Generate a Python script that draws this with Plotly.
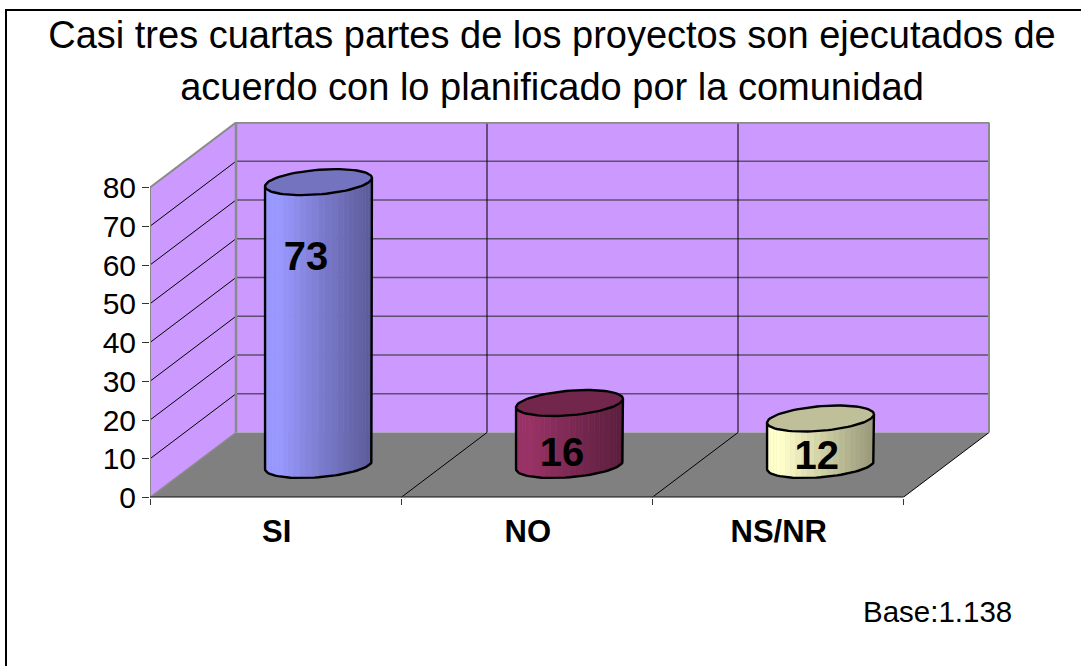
import math
import plotly.graph_objects as go

# ---- data ----
categories = ["SI", "NO", "NS/NR"]
values = [73, 16, 12]
y_ticks = [0, 10, 20, 30, 40, 50, 60, 70, 80]
title_lines = ["Casi tres cuartas partes de los proyectos son ejecutados de",
               "acuerdo con lo planificado por la comunidad"]
base_note = "Base:1.138"

# ---- styles ----
bar_colors = [(153, 153, 255), (153, 51, 102), (255, 255, 204)]
WALL = "#CC99FF"; FLOOR = "#808080"; EDGE = "#8A8A8A"; GRID = "#5C5070"
FONT = "Liberation Sans, Arial, sans-serif"
W, H = 1081, 666
HP = 650                            # height the page actually gives the plot
PX_CAT, PX_UNIT = 251.0, 3.875      # px per category, px per value unit
DX, DY = 86 / PX_CAT, 65 / PX_UNIT  # oblique depth offset in axis units
LEFT, RIGHT, BOTTOM, TOP = 150, 990, 497.5, 122
YMAX = max(y_ticks)
RX, RD, STRIPS, SEG = 0.2016, 0.2, 26, 40
T0 = math.atan2(17.2, 50.6)


def proj(cat, val, depth):
    return cat + depth * DX, val + depth * DY


def poly(points, fill, line=None, width=0):
    xs, ys = zip(*points)
    return go.Scatter(x=list(xs) + [xs[0]], y=list(ys) + [ys[0]], mode="lines", fill="toself",
                      fillcolor=fill, line=dict(color=line or fill, width=width),
                      hoverinfo="skip", showlegend=False)


def seg(p, q, color, width):
    return go.Scatter(x=[p[0], q[0]], y=[p[1], q[1]], mode="lines",
                      line=dict(color=color, width=width), hoverinfo="skip", showlegend=False)


def rgb(c, f=1.0):
    return "rgb(%d,%d,%d)" % tuple(round(v * f) for v in c)


n = len(categories)
traces = [
    poly([proj(0, 0, 0), proj(0, 0, 1), proj(0, YMAX, 1), proj(0, YMAX, 0)], WALL),
    poly([proj(0, 0, 1), proj(n, 0, 1), proj(n, YMAX, 1), proj(0, YMAX, 1)], WALL),
    poly([proj(0, 0, 0), proj(n, 0, 0), proj(n, 0, 1), proj(0, 0, 1)], FLOOR),
]
for v in y_ticks[1:-1]:
    traces.append(seg(proj(0, v, 0), proj(0, v, 1), "#000000", 1))
    traces.append(seg(proj(0, v, 1), proj(n, v, 1), GRID, 1.6))
for i in range(1, n):
    traces.append(seg(proj(i, 0, 1), proj(i, YMAX, 1), "#000000", 1))
    traces.append(seg(proj(i, 0, 0), proj(i, 0, 1), "#000000", 1))
traces += [
    seg(proj(n, 0, 0), proj(n, 0, 1), "#000000", 1),
    seg(proj(0, 0, 0), proj(0, 0, 1), EDGE, 1.5),
    seg(proj(0, YMAX, 0), proj(0, YMAX, 1), EDGE, 2),
    seg(proj(0, 0, 1), proj(0, YMAX, 1), EDGE, 2.5),
    seg(proj(0, YMAX, 1), proj(n, YMAX, 1), EDGE, 2.5),
    seg(proj(n, 0, 1), proj(n, YMAX, 1), EDGE, 2),
    seg(proj(0, 0, 0), proj(0, YMAX, 0), EDGE, 2),
    seg(proj(0, 0, 0), proj(n, 0, 0), "#333333", 2.5),
]


def rim(i, val, t):
    return proj(i + 0.5 + RX * math.cos(t), val, 0.5 + RD * math.sin(t))


for i, (val, col) in enumerate(zip(values, bar_colors)):
    for s in range(STRIPS):
        t1 = T0 - math.pi * s / STRIPS
        t2 = T0 - math.pi * (s + 1) / STRIPS
        xfrac = 1 - (math.cos(t1 - T0) + 1) / 2
        shade = 0.6 + 0.4 * min(1.0, xfrac / 0.85)
        traces.append(poly([rim(i, val, t1), rim(i, val, t2), rim(i, 0, t2), rim(i, 0, t1)],
                           rgb(col, shade), width=0.6))
    arc_top = [rim(i, val, T0 - math.pi * k / SEG) for k in range(SEG + 1)]
    arc_bot = [rim(i, 0, T0 - math.pi * k / SEG) for k in range(SEG + 1)]
    xs, ys = zip(*(arc_bot + [arc_top[-1]]))
    traces.append(go.Scatter(x=[arc_top[0][0]] + list(xs), y=[arc_top[0][1]] + list(ys),
                             mode="lines", line=dict(color="#000", width=2.4),
                             hoverinfo="skip", showlegend=False))
    cap = [rim(i, val, 2 * math.pi * k / (2 * SEG)) for k in range(2 * SEG)]
    traces.append(poly(cap, rgb(col, 0.75), "#000000", 2.4))

# data labels sit at a small per-bar offset from the bar top / middle
label_off = [(-0.05, -11.7), (-0.03, -5.3), (-0.015, -2.1)]
for i, (val, off) in enumerate(zip(values, label_off)):
    lx, ly = proj(i + 0.5 + off[0], val + off[1] - (16.77 * 0.5), 0.5)
    traces.append(go.Scatter(x=[lx], y=[ly], mode="text", text=[str(val)], textposition="middle center",
                             textfont=dict(family=FONT, size=40, color="#000000", weight="bold"),
                             hoverinfo="skip", showlegend=False, cliponaxis=False))

fig = go.Figure(traces)
fig.update_layout(
    width=W, height=H, margin=dict(l=0, r=0, t=0, b=0), paper_bgcolor="#FFFFFF", plot_bgcolor="#FFFFFF",
    showlegend=False,
    title=dict(text="<span style='font-size:38px'>" + "<br>".join(title_lines) + "</span>",
               x=552 / W, xanchor="center", y=0.928, yanchor="top",
               font=dict(family=FONT, size=40, color="#000000")),
    xaxis=dict(domain=[LEFT / W, RIGHT / W], range=[0, (RIGHT - LEFT) / PX_CAT],
               tickmode="array", tickvals=[k + 0.505 for k in range(n)], ticktext=categories,
               tickfont=dict(family=FONT, size=31, color="#000000", weight="bold"),
               ticks="", ticklabelstandoff=12, showgrid=False, zeroline=False, showline=False,
               minor=dict(tickmode="array", tickvals=list(range(n + 1)), ticks="outside", ticklen=6,
                          tickwidth=1, tickcolor="#333333", showgrid=False)),
    yaxis=dict(domain=[(HP - BOTTOM) / HP, (HP - TOP) / HP], range=[0, (BOTTOM - TOP) / PX_UNIT],
               tickmode="array", tickvals=y_ticks, ticktext=[str(v) for v in y_ticks],
               tickfont=dict(family=FONT, size=30, color="#000000"),
               ticks="outside", ticklen=7, tickwidth=1, tickcolor="#333333",
               showgrid=False, zeroline=False, showline=False),
    annotations=[dict(text=base_note, xref="paper", yref="paper", x=1013.5 / W, y=(HP - 611) / HP,
                      xanchor="right", yanchor="middle", showarrow=False,
                      font=dict(family=FONT, size=29.5, color="#000000"))],
    shapes=[dict(type="rect", xref="paper", yref="paper", x0=6 / W, x1=1090 / W, y0=-0.06, y1=(HP - 10) / HP,
                 line=dict(color="#000000", width=2), fillcolor="rgba(0,0,0,0)")],
)
fig.write_html("out.html", config={"displayModeBar": False},
               post_script="document.body.style.margin='0';document.documentElement.style.overflow='hidden';")
